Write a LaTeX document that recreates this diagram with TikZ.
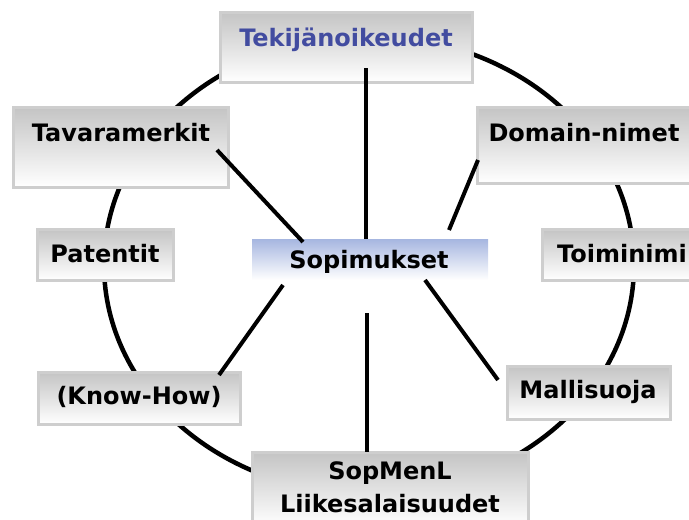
\documentclass[tikz,border=0pt]{standalone}
\usepackage{fontspec}
\setmainfont{DejaVu Sans}
\definecolor{boxtop}{RGB}{196,196,196}
\definecolor{boxedge}{RGB}{206,206,206}
\definecolor{sopblue}{RGB}{166,182,224}
\definecolor{tekblue}{RGB}{66,76,160}
\begin{document}
\begin{tikzpicture}[x=1pt,y=-1pt,
  box/.style={draw=boxedge, line width=3pt, top color=boxtop, bottom color=white, inner sep=0pt},
  sopbox/.style={top color=sopblue, bottom color=white, inner sep=0pt},
  lbl/.style={font=\fontsize{24}{33}\selectfont\bfseries, inner sep=0pt, align=center},
  ring/.style={line width=4.5pt},
  spoke/.style={line width=4pt}]
\useasboundingbox (0,0) rectangle (689,520);
% ring
\draw[ring] (369,265) ellipse [x radius=265pt, y radius=229pt];
% boxes
\node[box, minimum width=252pt, minimum height=70pt] (tekbox) at (346,47) {};
\node[box, minimum width=215pt, minimum height=80pt] (tavbox) at (120.5,147) {};
\node[box, minimum width=215pt, minimum height=76pt] (dombox) at (584.5,145) {};
\node[box, minimum width=136pt, minimum height=51pt] (patbox) at (105,254.5) {};
\node[box, minimum width=150pt, minimum height=51pt] (toibox) at (617,254.5) {};
\node[box, minimum width=202pt, minimum height=52pt] (knowbox) at (139,398) {};
\node[box, minimum width=163pt, minimum height=53pt] (malbox) at (588.5,392.5) {};
\node[box, minimum width=276pt, minimum height=74pt] (sopmbox) at (390,489) {};
\node[sopbox, minimum width=236pt, minimum height=41pt] (sopbox) at (370,259.5) {};
% labels
\node[lbl, text=tekblue] (tek) at (346,40) {Tekijänoikeudet};
\node[lbl] (tav) at (121,133) {Tavaramerkit};
\node[lbl] (dom) at (584,133) {Domain-nimet};
\node[lbl] (pat) at (105,254) {Patentit};
\node[lbl] (toi) at (622,254) {Toiminimi};
\node[lbl] (know) at (139,397) {(Know-How)};
\node[lbl] (mal) at (588,392) {Mallisuoja};
\node[lbl] (sopm) at (390,487) {SopMenL\\Liikesalaisuudet};
\node[lbl] (sop) at (369,262) {Sopimukset};
% spoke end points
\coordinate (t1) at (366,68);   \coordinate (t2) at (366,239);
\coordinate (tl1) at (217,150); \coordinate (tl2) at (303,242);
\coordinate (tr1) at (478,160); \coordinate (tr2) at (449,230);
\coordinate (bl1) at (283,285); \coordinate (bl2) at (219,375);
\coordinate (br1) at (425,280); \coordinate (br2) at (498,380);
\coordinate (b1) at (367,313);  \coordinate (b2) at (367,452);
\draw[spoke] (t1) -- (t2);
\draw[spoke] (tl1) -- (tl2);
\draw[spoke] (tr1) -- (tr2);
\draw[spoke] (bl1) -- (bl2);
\draw[spoke] (br1) -- (br2);
\draw[spoke] (b1) -- (b2);
\end{tikzpicture}
\end{document}
